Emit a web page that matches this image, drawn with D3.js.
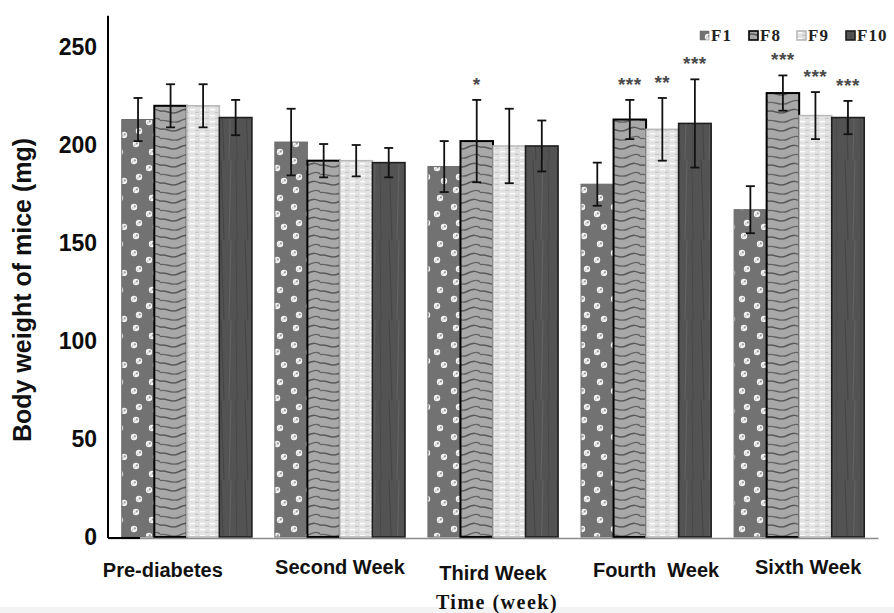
<!DOCTYPE html>
<html>
<head>
<meta charset="utf-8">
<script src="https://cdn.jsdelivr.net/npm/d3@7/dist/d3.min.js"></script>
<style>
  html, body { margin: 0; padding: 0; background: #fff; }
  svg { display: block; }
</style>
</head>
<body>
<svg id="chart" width="894" height="613"></svg>
<script>
// ---------------- data ----------------
const categories = ["Pre-diabetes", "Second Week", "Third Week", "Fourth  Week", "Sixth Week"];
const seriesNames = ["F1", "F8", "F9", "F10"];
const F1  = [213, 201.5, 189, 180, 167];
const F8  = [220, 192, 202, 213, 226.5];
const F9  = [220, 192, 199.5, 208, 215];
const F10 = [214, 191, 199.5, 211, 214];
const F1err  = [11, 17, 13, 11, 12];
const F8err  = [11, 8.5, 21, 10, 9];
const F9err  = [11, 8, 19, 16, 12];
const F10err = [9, 7.5, 13, 22.5, 8.5];
const F1sig  = ["", "", "", "", ""];
const F8sig  = ["", "", "*", "***", "***"];
const F9sig  = ["", "", "", "**", "***"];
const F10sig = ["", "", "", "***", "***"];
const yTicks = [0, 50, 100, 150, 200, 250];

const values = [F1, F8, F9, F10];
const errors = [F1err, F8err, F9err, F10err];
const sigs = [F1sig, F8sig, F9sig, F10sig];

const rows = [];
categories.forEach((c, ci) => {
  seriesNames.forEach((s, si) => {
    rows.push({cat: c, ser: s, si: si, v: values[si][ci], e: errors[si][ci], sig: sigs[si][ci]});
  });
});

// ---------------- layout / style ----------------
const svg = d3.select("#chart");
const defs = svg.append("defs");

// F1: gray with white splotches
const p1 = defs.append("pattern").attr("id", "pF1").attr("patternUnits", "userSpaceOnUse")
  .attr("width", 32).attr("height", 46);
p1.append("rect").attr("width", 32).attr("height", 46).attr("fill", "#727272");
[[8,6],[24,14],[6,23],[21,30],[11,39],[28,43]].forEach(([cx, cy]) => {
  p1.append("circle").attr("cx", cx).attr("cy", cy).attr("r", 3.2).attr("fill", "#f2f2f2");
  p1.append("circle").attr("cx", cx + 0.8).attr("cy", cy - 0.6).attr("r", 1.1).attr("fill", "#9a9a9a");
  p1.append("circle").attr("cx", cx - 1.2).attr("cy", cy + 1).attr("r", 0.7).attr("fill", "#b0b0b0");
});

// F8: light gray with dark wavy grain
const p8 = defs.append("pattern").attr("id", "pF8").attr("patternUnits", "userSpaceOnUse")
  .attr("width", 32).attr("height", 18);
p8.append("rect").attr("width", 32).attr("height", 18).attr("fill", "#a8a8a8");
p8.append("path").attr("d", "M-2,4 C6,0 10,8 18,4 S28,1 34,4").attr("fill", "none")
  .attr("stroke", "#595959").attr("stroke-width", 1.5);
p8.append("path").attr("d", "M-2,13 C6,10 12,17 20,13 S30,10 34,13").attr("fill", "none")
  .attr("stroke", "#636363").attr("stroke-width", 1.4);

// F9: very light with small dashes
const p9 = defs.append("pattern").attr("id", "pF9").attr("patternUnits", "userSpaceOnUse")
  .attr("width", 10).attr("height", 6);
p9.append("rect").attr("width", 10).attr("height", 6).attr("fill", "#e2e2e2");
p9.append("rect").attr("x", 0).attr("y", 0.8).attr("width", 5).attr("height", 1.6).attr("fill", "#ffffff");
p9.append("rect").attr("x", 5).attr("y", 3.8).attr("width", 4).attr("height", 1.2).attr("fill", "#c6c6c6");

// F10: dark with faint vertical grain
const p10 = defs.append("pattern").attr("id", "pF10").attr("patternUnits", "userSpaceOnUse")
  .attr("width", 24).attr("height", 80);
p10.append("rect").attr("width", 24).attr("height", 80).attr("fill", "#535353");
p10.append("path").attr("d", "M5,0 L8,80").attr("stroke", "#434343").attr("stroke-width", 1);
p10.append("path").attr("d", "M15,0 L13,80").attr("stroke", "#636363").attr("stroke-width", 1);
p10.append("path").attr("d", "M20,0 L21,80").attr("stroke", "#464646").attr("stroke-width", 0.8);

const fills = {F1: "url(#pF1)", F8: "url(#pF8)", F9: "url(#pF9)", F10: "url(#pF10)"};
const strokes = {F1: "#6a6a6a", F8: "#000", F9: "#b8b8b8", F10: "#1e1e1e"};
const strokeW = {F1: 1, F8: 2, F9: 1.5, F10: 1.6};

// scales
const y = d3.scaleLinear().domain([0, 250]).range([537, 47]);
const x0 = d3.scaleBand().domain(categories).range([108, 878]).paddingInner(0.15).paddingOuter(0.09);
const x1 = d3.scaleBand().domain(seriesNames).range([0, x0.bandwidth()]);

// faint strip at bottom
svg.append("rect").attr("x", 0).attr("y", 607).attr("width", 894).attr("height", 6).attr("fill", "#f3f3f3");

// bars
const g = svg.append("g");
g.selectAll("rect.bar").data(rows).join("rect")
  .attr("class", "bar")
  .attr("x", d => x0(d.cat) + x1(d.ser))
  .attr("y", d => y(d.v))
  .attr("width", x1.bandwidth())
  .attr("height", d => y(0) - y(d.v))
  .attr("fill", d => fills[d.ser])
  .attr("stroke", d => strokes[d.ser])
  .attr("stroke-width", d => strokeW[d.ser]);

// error bars
const cx = d => x0(d.cat) + x1(d.ser) + x1.bandwidth() / 2;
const eg = g.selectAll("g.err").data(rows).join("g").attr("class", "err")
  .attr("stroke", "#111").attr("stroke-width", 1.8);
eg.append("line").attr("x1", cx).attr("x2", cx).attr("y1", d => y(d.v + d.e)).attr("y2", d => y(d.v - d.e));
eg.append("line").attr("x1", d => cx(d) - 4.5).attr("x2", d => cx(d) + 4.5).attr("y1", d => y(d.v + d.e)).attr("y2", d => y(d.v + d.e));
eg.append("line").attr("x1", d => cx(d) - 4.5).attr("x2", d => cx(d) + 4.5).attr("y1", d => y(d.v - d.e)).attr("y2", d => y(d.v - d.e));

// significance stars
g.selectAll("text.sig").data(rows.filter(d => d.sig)).join("text")
  .attr("class", "sig")
  .attr("x", cx)
  .attr("y", d => y(d.v + d.e) - 9)
  .attr("text-anchor", "middle")
  .attr("font-family", "Liberation Sans, Arial, sans-serif")
  .attr("font-weight", "bold")
  .attr("font-size", 19)
  .attr("letter-spacing", 0.5)
  .attr("fill", "#4a4a4a")
  .text(d => d.sig);

// y axis
const yAxis = svg.append("g").attr("transform", "translate(108,0)")
  .call(d3.axisLeft(y).tickValues(yTicks).tickSize(0).tickPadding(11));
yAxis.select(".domain").remove();
yAxis.selectAll("text")
  .attr("font-family", "Liberation Sans, Arial, sans-serif")
  .attr("font-weight", "bold")
  .attr("font-size", 23)
  .attr("fill", "#0d0d0d");
svg.append("line").attr("x1", 108).attr("x2", 108).attr("y1", y(0) + 1).attr("y2", y(266))
  .attr("stroke", "#000").attr("stroke-width", 2);

// x axis
const labelShift = [[-24, 0], [0, -3], [0, 3], [10, 0], [9, -3]];
const xAxis = svg.append("g").attr("transform", `translate(0,${y(0) + 1})`)
  .call(d3.axisBottom(x0).tickSize(0).tickPadding(25));
xAxis.select(".domain").attr("stroke", "#8a8a8a").attr("stroke-width", 1.5);
xAxis.selectAll("text")
  .attr("font-family", "Liberation Sans, Arial, sans-serif")
  .attr("font-weight", "bold")
  .attr("font-size", 20)
  .attr("fill", "#111")
  .attr("xml:space", "preserve")
  .style("white-space", "pre")
  .attr("dx", (d, i) => labelShift[i][0])
  .attr("dy", (d, i) => 14 + labelShift[i][1]);
svg.append("line").attr("x1", 108).attr("x2", 140).attr("y1", y(0) + 1).attr("y2", y(0) + 1)
  .attr("stroke", "#000").attr("stroke-width", 2);

// axis titles
svg.append("text")
  .attr("transform", "translate(31,290) rotate(-90)")
  .attr("text-anchor", "middle")
  .attr("font-family", "Liberation Sans, Arial, sans-serif")
  .attr("font-weight", "bold")
  .attr("font-size", 25)
  .attr("fill", "#111")
  .text("Body weight of mice (mg)");

svg.append("text")
  .attr("x", 497).attr("y", 609)
  .attr("text-anchor", "middle")
  .attr("font-family", "Liberation Serif, Times New Roman, serif")
  .attr("font-weight", "bold")
  .attr("font-size", 20)
  .attr("letter-spacing", 1.5)
  .attr("fill", "#111")
  .text("Time (week)");

// legend
const legendX = [700, 749, 797, 846];
const lg = svg.append("g");
seriesNames.forEach((s, i) => {
  const it = lg.append("g").attr("transform", `translate(${legendX[i]},31)`);
  it.append("rect").attr("width", 9).attr("height", 9)
    .attr("fill", fills[s]).attr("stroke", strokes[s]).attr("stroke-width", s === "F1" ? 0.5 : 1.6);
  it.append("text").attr("x", 11).attr("y", 10)
    .attr("font-family", "Liberation Serif, Times New Roman, serif")
    .attr("font-weight", "bold")
    .attr("font-size", 17)
    .attr("letter-spacing", 1)
    .attr("fill", "#222")
    .text(s);
});
</script>
</body>
</html>
